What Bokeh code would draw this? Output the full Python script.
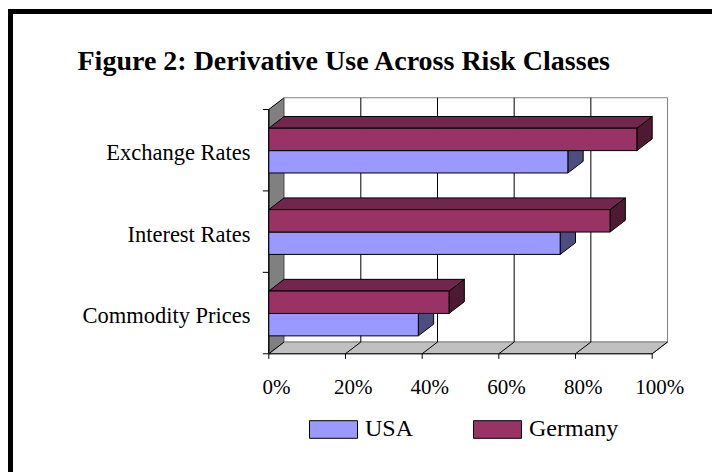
from bokeh.plotting import figure
from bokeh.models import Range1d, LinearAxis, FixedTicker, Legend, LegendItem
from bokeh.core.properties import value
from bokeh.embed import file_html
from bokeh.resources import INLINE

# ---- data ----
categories = ["Commodity Prices", "Interest Rates", "Exchange Rates"]
usa = [39, 76, 78]
germany = [47, 89, 96]
series_names = ["USA", "Germany"]
x_ticks = [0, 20, 40, 60, 80, 100]
x_tick_labels = ["0%", "20%", "40%", "60%", "80%", "100%"]
title_text = "Figure 2: Derivative Use Across Risk Classes"

# ---- style constants ----
DX = 4.0        # 3-D depth along value axis (value units)
DY = 0.144      # 3-D depth along category axis (category units)
BAR_LO = 0.22
BAR_H = 0.275
TICK_X = 1.56
TICK_Y = 0.062
LABEL_Y = -0.405
FONT = "Liberation Serif"
USA_FRONT, USA_SIDE, USA_TOP = "#9999FF", "#4D4D80", "#6B6BB3"
GER_FRONT, GER_SIDE, GER_TOP = "#993366", "#4D1933", "#73264D"

XS, XE = -2.426, 112.6
YS, YE = -1.458, 3.184

p = figure(width=712, height=472, output_backend="svg", toolbar_location=None,
           x_range=Range1d(XS, XE), y_range=Range1d(YS, YE),
           x_axis_type=None, y_axis_type=None,
           min_border_left=259, min_border_right=12,
           min_border_top=94, min_border_bottom=0)
p.outline_line_color = None
p.border_fill_color = None
p.background_fill_color = "white"
p.styles = {"box-shadow": "inset 8px 9px 0 0 #ffffff, inset 13px 14px 0 0 #000000"}

ncat = len(categories)
xmax = x_ticks[-1]

# walls and floor
p.patch([0, 0, DX, DX], [0, ncat, ncat + DY, DY], fill_color="#808080",
        line_color="black", line_width=1)
p.quad(left=[DX], right=[xmax + DX], bottom=[DY], top=[ncat + DY],
       fill_color="white", line_color="#808080", line_width=1)
p.patch([0, xmax, xmax + DX, DX], [0, 0, DY, DY], fill_color="#C0C0C0",
        line_color="#808080", line_width=1)

# back-wall grid lines
inner = x_ticks[1:-1]
p.segment(x0=[v + DX for v in inner], y0=[DY] * len(inner),
          x1=[v + DX for v in inner], y1=[ncat + DY] * len(inner),
          line_color="black", line_width=1)
# floor diagonals
p.segment(x0=x_ticks, y0=[0] * len(x_ticks),
          x1=[v + DX for v in x_ticks], y1=[DY] * len(x_ticks),
          line_color="black", line_width=1)
# front value axis line and ticks
p.segment(x0=[0], y0=[0], x1=[xmax], y1=[0], line_color="black", line_width=1)
p.segment(x0=x_ticks, y0=[0] * len(x_ticks), x1=x_ticks,
          y1=[-TICK_Y] * len(x_ticks), line_color="black", line_width=1)
# value tick labels (centred between front and back planes)
p.text(x=[v + DX / 2 for v in x_ticks], y=[LABEL_Y] * len(x_ticks), text=x_tick_labels,
       text_font=value(FONT), text_font_size="21px", text_color="black",
       text_align="center", text_baseline="alphabetic")
# front category axis line and ticks
bounds = list(range(ncat + 1))
p.segment(x0=[0], y0=[0], x1=[0], y1=[ncat], line_color="black", line_width=1)
p.segment(x0=[0] * len(bounds), y0=bounds, x1=[-TICK_X] * len(bounds),
          y1=bounds, line_color="black", line_width=1)


def draw_series(vals, offset, front, side, top):
    y0 = [k + offset for k in range(ncat)]
    y1 = [y + BAR_H for y in y0]
    p.patches(xs=[[v, v, v + DX, v + DX] for v in vals],
              ys=[[a, b, b + DY, a + DY] for a, b in zip(y0, y1)],
              fill_color=side, line_color="black", line_width=1)
    p.patches(xs=[[0, v, v + DX, DX] for v in vals],
              ys=[[b, b, b + DY, b + DY] for b in y1],
              fill_color=top, line_color="black", line_width=1)
    return p.quad(left=[0] * ncat, right=vals, bottom=y0, top=y1,
                  fill_color=front, line_color="black", line_width=1)


r_usa = draw_series(usa, BAR_LO, USA_FRONT, USA_SIDE, USA_TOP)
r_ger = draw_series(germany, BAR_LO + BAR_H, GER_FRONT, GER_SIDE, GER_TOP)

# category axis labels
cat_pos = [k + 0.5 for k in range(ncat)]
p.extra_y_ranges = {"lab": Range1d(YS + 0.030, YE + 0.030)}
yaxis = LinearAxis(y_range_name="lab", ticker=FixedTicker(ticks=cat_pos, minor_ticks=[]),
                   major_label_overrides={v: s for v, s in zip(cat_pos, categories)},
                   axis_line_color=None, major_tick_line_color=None,
                   minor_tick_line_color=None, major_tick_out=0, major_tick_in=0,
                   minor_tick_out=0, minor_tick_in=0,
                   major_label_standoff=9,
                   major_label_text_font=FONT, major_label_text_font_size="22.5px",
                   major_label_text_color="black")
p.add_layout(yaxis, "left")

legend = Legend(items=[LegendItem(label=series_names[0], renderers=[r_usa]),
                       LegendItem(label=series_names[1], renderers=[r_ger])],
                orientation="horizontal", location=(44, 30),
                glyph_width=60, glyph_height=22, label_standoff=2, spacing=54,
                label_text_font=FONT, label_text_font_size="24px",
                label_text_color="black",
                border_line_color=None, background_fill_alpha=0,
                padding=0, margin=0)
p.add_layout(legend)

p.title.text = title_text
p.title.align = "left"
p.title.offset = -182
p.title.text_font = FONT
p.title.text_font_style = "bold"
p.title.text_font_size = "28px"
p.title.text_color = "black"
p.title.standoff = 38

open("out.html", "w").write(file_html(p, INLINE))
